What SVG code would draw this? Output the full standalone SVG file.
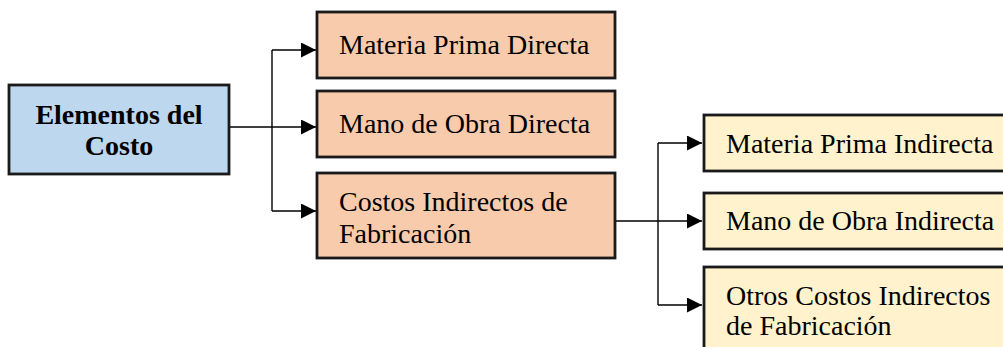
<svg xmlns="http://www.w3.org/2000/svg" width="1003" height="347" viewBox="0 0 1003 347">
<style>
.box{stroke:#1a1a1a;stroke-width:2.8}
.blue{fill:#BDD7EE}
.orange{fill:#F8CBAD}
.yellow{fill:#FFF2CC}
.t{font-family:"Liberation Serif","Times New Roman",serif;font-size:28px;fill:#000}
.b{font-weight:bold}
.c{fill:none;stroke:#000;stroke-width:1.4}
</style>
<defs>
<marker id="ah" markerWidth="15" markerHeight="15" refX="15" refY="7.5" orient="auto" markerUnits="userSpaceOnUse">
<path d="M0,0 L15,7.5 L0,15 Z" fill="#000"/>
</marker>
</defs>
<g id="connectors">
<path class="c" d="M229,127 H316" marker-end="url(#ah)"/>
<path class="c" d="M272,50 V211"/>
<path class="c" d="M272,50 H316" marker-end="url(#ah)"/>
<path class="c" d="M272,211 H316" marker-end="url(#ah)"/>
<path class="c" d="M615,221 H702" marker-end="url(#ah)"/>
<path class="c" d="M658,143 V305"/>
<path class="c" d="M658,143 H702" marker-end="url(#ah)"/>
<path class="c" d="M658,305 H702" marker-end="url(#ah)"/>
</g>
<g id="elementos">
<rect class="box blue" x="9" y="85" width="220" height="89"/>
<text class="t b" x="119" y="124" text-anchor="middle">Elementos del</text>
<text class="t b" x="119" y="155" text-anchor="middle">Costo</text>
</g>
<g id="mpd">
<rect class="box orange" x="317" y="12" width="298" height="66"/>
<text class="t" x="339" y="54">Materia Prima Directa</text>
</g>
<g id="mod">
<rect class="box orange" x="317" y="91" width="298" height="66"/>
<text class="t" x="339" y="133">Mano de Obra Directa</text>
</g>
<g id="cif">
<rect class="box orange" x="317" y="173" width="298" height="85"/>
<text class="t" x="339" y="211">Costos Indirectos de</text>
<text class="t" x="339" y="243">Fabricación</text>
</g>
<g id="mpi">
<rect class="box yellow" x="704" y="115" width="310" height="56"/>
<text class="t" x="726" y="153">Materia Prima Indirecta</text>
</g>
<g id="moi">
<rect class="box yellow" x="704" y="193" width="310" height="56"/>
<text class="t" x="726" y="230">Mano de Obra Indirecta</text>
</g>
<g id="ocif">
<rect class="box yellow" x="704" y="267" width="310" height="90"/>
<text class="t" x="726" y="305">Otros Costos Indirectos</text>
<text class="t" x="726" y="335">de Fabricación</text>
</g>
</svg>
